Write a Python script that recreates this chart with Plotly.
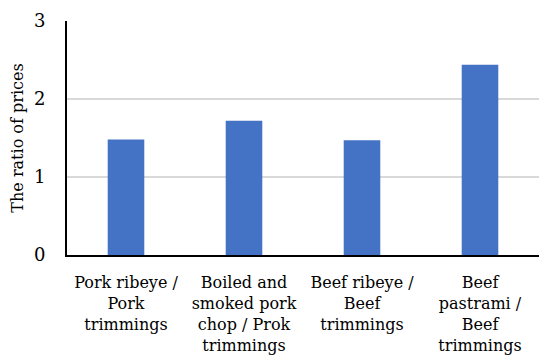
import plotly.graph_objects as go

# Price ratios of premium cuts relative to trimmings
categories = [
    "Pork ribeye /<br>Pork<br>trimmings",
    "Boiled and<br>smoked pork<br>chop / Prok<br>trimmings",
    "Beef ribeye /<br>Beef<br>trimmings",
    "Beef<br>pastrami /<br>Beef<br>trimmings",
]
ratios = [1.48, 1.72, 1.47, 2.44]
y_ticks = [0, 1, 2, 3]

FONT = "DejaVu Serif"
SIZE = 16

fig = go.Figure(
    go.Bar(
        x=categories,
        y=ratios,
        marker=dict(color="#4472C4", line=dict(width=0)),
    )
)

fig.update_layout(
    width=539,
    height=362,
    margin=dict(l=67, r=0, t=21, b=107),
    paper_bgcolor="white",
    plot_bgcolor="white",
    bargap=0.69,
    showlegend=False,
    font=dict(family=FONT, size=SIZE, color="black"),
)

fig.update_xaxes(
    showline=True,
    linecolor="black",
    linewidth=2,
    showgrid=False,
    ticks="",
    tickangle=0,
    ticklabelstandoff=12,
    tickfont=dict(family=FONT, size=SIZE, color="black"),
)

fig.update_yaxes(
    range=[0, 3],
    tickvals=y_ticks,
    showline=True,
    linecolor="black",
    linewidth=2,
    showgrid=True,
    gridcolor="#d9d9d9",
    gridwidth=1.5,
    zeroline=False,
    ticks="",
    ticklabelstandoff=16,
    tickfont=dict(family=FONT, size=SIZE + 2, color="black"),
    title=dict(text="The ratio of prices", font=dict(family=FONT, size=SIZE, color="black"), standoff=6),
)

fig.write_html("out.html")
